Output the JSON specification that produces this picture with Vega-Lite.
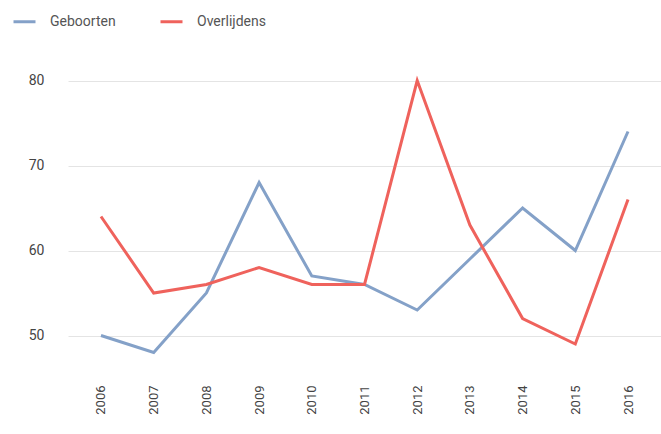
{
  "$schema": "https://vega.github.io/schema/vega-lite/v6.json",
  "width": 593,
  "height": 340,
  "autosize": {"type": "none"},
  "padding": {"left": 68, "top": 38, "right": 0, "bottom": 56},
  "background": "white",
  "config": {
    "view": {"stroke": null},
    "font": "Roboto"
  },
  "data": {
    "values": [
      {"jaar": "2006", "reeks": "Geboorten", "aantal": 50},
      {"jaar": "2007", "reeks": "Geboorten", "aantal": 48},
      {"jaar": "2008", "reeks": "Geboorten", "aantal": 55},
      {"jaar": "2009", "reeks": "Geboorten", "aantal": 68},
      {"jaar": "2010", "reeks": "Geboorten", "aantal": 57},
      {"jaar": "2011", "reeks": "Geboorten", "aantal": 56},
      {"jaar": "2012", "reeks": "Geboorten", "aantal": 53},
      {"jaar": "2013", "reeks": "Geboorten", "aantal": 59},
      {"jaar": "2014", "reeks": "Geboorten", "aantal": 65},
      {"jaar": "2015", "reeks": "Geboorten", "aantal": 60},
      {"jaar": "2016", "reeks": "Geboorten", "aantal": 74},
      {"jaar": "2006", "reeks": "Overlijdens", "aantal": 64},
      {"jaar": "2007", "reeks": "Overlijdens", "aantal": 55},
      {"jaar": "2008", "reeks": "Overlijdens", "aantal": 56},
      {"jaar": "2009", "reeks": "Overlijdens", "aantal": 58},
      {"jaar": "2010", "reeks": "Overlijdens", "aantal": 56},
      {"jaar": "2011", "reeks": "Overlijdens", "aantal": 56},
      {"jaar": "2012", "reeks": "Overlijdens", "aantal": 80},
      {"jaar": "2013", "reeks": "Overlijdens", "aantal": 63},
      {"jaar": "2014", "reeks": "Overlijdens", "aantal": 52},
      {"jaar": "2015", "reeks": "Overlijdens", "aantal": 49},
      {"jaar": "2016", "reeks": "Overlijdens", "aantal": 66}
    ]
  },
  "mark": {"type": "line", "strokeWidth": 3, "strokeJoin": "miter"},
  "encoding": {
    "x": {
      "field": "jaar",
      "type": "ordinal",
      "scale": {"type": "point", "padding": 0.626},
      "axis": {
        "title": null,
        "labelAngle": -90,
        "labelFontSize": 13,
        "labelColor": "#444444",
        "labelPadding": 7,
        "ticks": false,
        "domain": false,
        "grid": false
      }
    },
    "y": {
      "field": "aantal",
      "type": "quantitative",
      "scale": {"domain": [45, 85], "nice": false, "zero": false},
      "axis": {
        "title": null,
        "values": [50, 60, 70, 80],
        "labelFontSize": 14,
        "labelColor": "#444444",
        "labelPadding": 24,
        "ticks": false,
        "domain": false,
        "grid": true,
        "gridColor": "#e4e4e4",
        "gridWidth": 1
      }
    },
    "color": {
      "field": "reeks",
      "type": "nominal",
      "scale": {"domain": ["Geboorten", "Overlijdens"], "range": ["#84a1c8", "#ef625c"]},
      "legend": {
        "title": null,
        "orient": "none",
        "direction": "horizontal",
        "legendX": -56,
        "legendY": -29,
        "padding": 0,
        "symbolType": "stroke",
        "symbolSize": 484,
        "symbolStrokeWidth": 3,
        "labelFontSize": 14,
        "labelColor": "#555555",
        "labelOffset": 13,
        "columnPadding": 38
      }
    }
  }
}
